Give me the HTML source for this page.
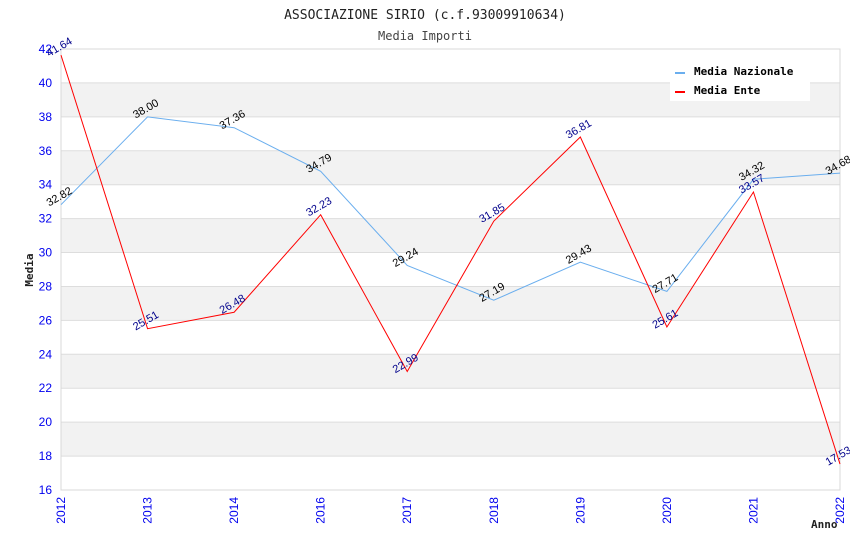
<!DOCTYPE html>
<html><head><meta charset="utf-8"><style>
body{margin:0;background:#fff;}
svg{display:block;font-family:"Liberation Sans",sans-serif;}
.mono{font-family:"DejaVu Sans Mono","Liberation Mono",monospace;}
</style></head><body>
<svg id="chart" width="850" height="550">
<text x="425" y="19" text-anchor="middle" class="mono" font-size="13" fill="#222">ASSOCIAZIONE SIRIO (c.f.93009910634)</text>
<text x="425" y="40" text-anchor="middle" class="mono" font-size="12" fill="#444">Media Importi</text>
<g id="grid"></g>
<g id="axes"></g>
<g id="series"></g>
<g>
<rect x="670" y="60" width="140" height="41" fill="#fff"/>
<rect x="675" y="72" width="10" height="2" fill="#6aaeee"/>
<text x="694" y="75" class="mono" font-size="11" font-weight="bold" fill="#000">Media Nazionale</text>
<rect x="675" y="91" width="10" height="2" fill="#ff0000"/>
<text x="694" y="94" class="mono" font-size="11" font-weight="bold" fill="#000">Media Ente</text>
</g>
<text x="33" y="270" transform="rotate(-90 33 270)" text-anchor="middle" class="mono" font-size="11" font-weight="bold" fill="#222">Media</text>
<text x="811" y="528" class="mono" font-size="11" font-weight="bold" fill="#222">Anno</text>
</svg>
<script>
const categories=["2012","2013","2014","2016","2017","2018","2019","2020","2021","2022"];
const nazionale=[32.82,38.00,37.36,34.79,29.24,27.19,29.43,27.71,34.32,34.68];
const ente=[41.64,25.51,26.48,32.23,22.99,31.85,36.81,25.61,33.57,17.53];
const yTicks=[16,18,20,22,24,26,28,30,32,34,36,38,40,42];

const NS="http://www.w3.org/2000/svg";
const L=61,R=840,T=49,B=490,yMin=16,yMax=42;
const xs=i=>L+i*(R-L)/(categories.length-1);
const ys=v=>B-(v-yMin)/(yMax-yMin)*(B-T);
function mk(tag,attrs,parent){const e=document.createElementNS(NS,tag);for(const k in attrs)e.setAttribute(k,attrs[k]);parent.appendChild(e);return e;}
const grid=document.getElementById('grid'),axes=document.getElementById('axes'),series=document.getElementById('series');
for(let i=0;i<yTicks.length-1;i++){
  if(i%2===1){const r=mk('rect',{x:L,y:ys(yTicks[i+1]),width:R-L,height:ys(yTicks[i])-ys(yTicks[i+1]),fill:'#f2f2f2'},grid);
  
  }
}
yTicks.forEach(t=>{
  const l=mk('line',{x1:L,x2:R,y1:ys(t),y2:ys(t),stroke:'#dddddd','stroke-width':1},grid);
  
  
  const tx=mk('text',{x:L-9,y:ys(t)+4,'text-anchor':'end','font-size':12,fill:'#0000ee'},axes);
  tx.textContent=t;
  
  
});
const frame=mk('rect',{x:L,y:T,width:R-L,height:B-T,fill:'none',stroke:'#d8d8d8'},axes);


categories.forEach((c,i)=>{
  const x=xs(i)+4,y=497;
  const tx=mk('text',{x:x,y:y,transform:`rotate(-90 ${x} ${y})`,'text-anchor':'end','font-size':12,fill:'#0000ee'},axes);
  tx.textContent=c;
  
  
});
function draw(vals,color,labelColor,name){
  const p=mk('polyline',{points:vals.map((v,i)=>xs(i)+','+ys(v)).join(' '),fill:'none',stroke:color,'stroke-width':1},series);
  
  
  vals.forEach((v,i)=>{
    const x=xs(i),y=ys(v)-5;
    const t=mk('text',{x:x,y:y,transform:`rotate(-30 ${x} ${y})`,'text-anchor':'middle','font-size':11,fill:labelColor},series);
    t.textContent=v.toFixed(2);
    
    
  });
}
draw(nazionale,'#6aaeee','#000','nazionale');
draw(ente,'#ff0000','#00008b','ente');
</script>
</body></html>
